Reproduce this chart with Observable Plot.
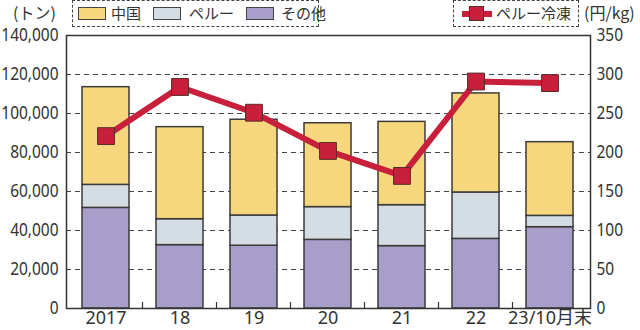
<!DOCTYPE html>
<html><head><meta charset="utf-8">
<script src="https://cdn.jsdelivr.net/npm/d3@7"></script>
<script src="https://cdn.jsdelivr.net/npm/@observablehq/plot@0.6"></script>
<style>
body{margin:0;background:#fff;font-family:"Noto Sans CJK JP","Noto Sans",sans-serif;color:#333;}
#wrap{position:relative;width:640px;height:330px;overflow:hidden;}
.lbl{position:absolute;font-size:15px;line-height:18px;color:#333;white-space:nowrap;}
.unit{position:absolute;font-family:"Noto Sans CJK JP",sans-serif;font-size:16px;line-height:18px;color:#333;white-space:nowrap;}
.box{position:absolute;border:1.5px dashed #444;box-sizing:border-box;}
.sw{position:absolute;width:28px;height:13px;border:1.5px solid #444;box-sizing:border-box;}
</style></head><body>
<div id="wrap"></div>
<script>
const categories = ["2017","18","19","20","21","22","23/10月末"];
const seriesNames = ["その他","ペルー","中国"];            // stacking order, bottom to top
const seriesColors = ["#a79ec9","#d4dde4","#f6d77d"];
const other = [51600,32500,32200,35200,32000,35700,41700];
const peru  = [11800,13300,15500,16800,21000,23800,5800];
const china = [50100,47200,49100,43000,42700,50800,37800];
const peruFrozenPrice = [221,284,251,202,170,291,289];   // 円/kg (right axis)
const leftTicks = [0,20000,40000,60000,80000,100000,120000,140000];
const rightTicks = [0,50,100,150,200,250,300,350];
const lineName = "ペルー冷凍";
const lineColor = "#c8203a";

const ratio = leftTicks[leftTicks.length-1] / rightTicks[rightTicks.length-1];
const seriesValues = [other, peru, china];
const rows = [];
seriesNames.forEach((s, si) => categories.forEach((c, i) => rows.push({cat: c, series: s, value: seriesValues[si][i]})));
const lineData = categories.map((c, i) => ({cat: c, price: peruFrozenPrice[i]}));
const fontStack = '"Noto Sans","Noto Sans CJK JP",sans-serif';

const plot = Plot.plot({
  width: 640, height: 330,
  marginLeft: 66, marginRight: 50, marginTop: 35, marginBottom: 22,
  style: {fontFamily: fontStack, fontSize: "18px", color: "#333", background: "#fff"},
  x: {domain: categories, paddingInner: 0.36, paddingOuter: 0.18, label: null},
  y: {domain: [0, leftTicks[leftTicks.length-1]], label: null},
  color: {domain: seriesNames, range: seriesColors},
  marks: [
    Plot.gridY(leftTicks.slice(1, -1), {stroke: "#444", strokeOpacity: 1, strokeDasharray: "5,4", strokeWidth: 1}),
    Plot.barY(rows, {x: "cat", y: "value", fill: "series", stroke: "#3d3a3a", strokeWidth: 1.5}),
    Plot.line(lineData, {x: "cat", y: d => d.price * ratio, stroke: lineColor, strokeWidth: 6}),
    Plot.dot(lineData, {x: "cat", y: d => d.price * ratio, symbol: "square", r: 9.5, fill: lineColor, stroke: "#5a2a2a", strokeWidth: 1}),
    Plot.frame({stroke: "#333", strokeWidth: 1.5}),
    Plot.axisY(leftTicks, {anchor: "left", tickSize: 0, tickPadding: 8, tickFormat: d3.format(","), fontSize: 18, label: null}),
    Plot.axisY(leftTicks, {anchor: "right", tickSize: 0, tickPadding: 6, tickFormat: d => String(Math.round(d / ratio)), fontSize: 18, label: null}),
    Plot.axisX({tickSize: 0, tickPadding: 3, fontSize: 18, label: null})
  ]
});

// small boundary ticks along the bottom between categories
const xs = plot.scale("x"), ys = plot.scale("y");
const svg = d3.select(plot);
const y0 = ys.apply(0);
for (let i = 0; i < categories.length - 1; i++) {
  const bx = xs.apply(categories[i]) + xs.bandwidth + (xs.step - xs.bandwidth) / 2;
  svg.append("line").attr("x1", bx).attr("x2", bx).attr("y1", y0).attr("y2", y0 - 6)
    .attr("stroke", "#333").attr("stroke-width", 1.2);
}
// condensed look for the y tick labels (scaled around their anchor point)
svg.selectAll("[aria-label='y-axis tick label'] text").each(function() {
  const t = this.getAttribute("transform") || "";
  this.setAttribute("transform", t + " scale(0.86,1)");
});

const wrap = document.getElementById("wrap");
wrap.appendChild(plot);
plot.style.position = "absolute"; plot.style.left = "0"; plot.style.top = "0";

function add(html) { wrap.insertAdjacentHTML("beforeend", html); }
add(`<div class="unit" style="left:13px;top:3px;">(トン)</div>`);
add(`<div class="unit" style="left:584px;top:3px;">(円/kg)</div>`);
add(`<div class="box" style="left:72px;top:0px;width:247px;height:27px;"></div>`);
const legendX = [[78,111],[153,189],[246,281]];
const legendOrder = ["中国","ペルー","その他"];
legendOrder.forEach((s, i) => {
  const col = seriesColors[seriesNames.indexOf(s)];
  add(`<div class="sw" style="left:${legendX[i][0]}px;top:7px;background:${col};"></div>`);
  add(`<div class="lbl" style="left:${legendX[i][1]}px;top:4px;">${s}</div>`);
});
add(`<div class="box" style="left:453px;top:0px;width:126px;height:27px;"></div>`);
add(`<div style="position:absolute;left:462px;top:11px;width:30px;height:6px;background:${lineColor};"></div>`);
add(`<div style="position:absolute;left:469px;top:6px;width:15px;height:15px;background:${lineColor};border:1px solid #5a2a2a;box-sizing:border-box;"></div>`);
add(`<div class="lbl" style="left:496px;top:4px;">${lineName}</div>`);
</script>
</body></html>
